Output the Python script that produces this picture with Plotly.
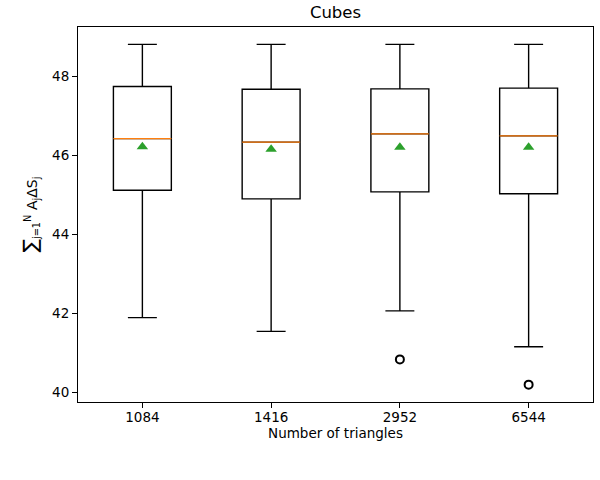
import plotly.graph_objects as go

categories = ["1084", "1416", "2952", "6544"]
q1 = [45.12, 44.90, 45.08, 45.03]
median = [46.43, 46.34, 46.55, 46.50]
q3 = [47.75, 47.68, 47.69, 47.71]
lower_whisker = [41.89, 41.54, 42.06, 41.15]
upper_whisker = [48.82, 48.82, 48.82, 48.82]
means = [46.22, 46.16, 46.21, 46.21]
outlier_cat = ["2952", "6544"]
outlier_val = [40.83, 40.19]

positions = [i + 1 for i in range(len(categories))]
pos_of = dict(zip(categories, positions))
BOX_W = 0.45
LW = 1.4
FONT = "DejaVu Sans"

fig = go.Figure()
fig.add_trace(go.Box(
    x=positions, q1=q1, median=median, q3=q3,
    lowerfence=lower_whisker, upperfence=upper_whisker,
    width=BOX_W, whiskerwidth=0.5,
    line=dict(color="black", width=LW),
    fillcolor="rgba(255,255,255,0)",
    boxpoints=False, showlegend=False, hoverinfo="skip",
))
for p, m in zip(positions, median):
    fig.add_trace(go.Scatter(
        x=[p - BOX_W / 2, p + BOX_W / 2], y=[m, m], mode="lines",
        line=dict(color="#ff7f0e", width=LW), showlegend=False, hoverinfo="skip",
    ))
fig.add_trace(go.Scatter(
    x=positions, y=means, mode="markers",
    marker=dict(symbol="triangle-up", size=10, color="#2ca02c"),
    showlegend=False,
))
fig.add_trace(go.Scatter(
    x=[pos_of[c] for c in outlier_cat], y=outlier_val, mode="markers",
    marker=dict(symbol="circle-open", size=8, color="black", line=dict(width=2)),
    showlegend=False,
))

axis_common = dict(
    showline=True, linecolor="black", linewidth=1, mirror=True,
    ticks="outside", ticklen=5, tickwidth=1, tickcolor="black",
    showgrid=False, zeroline=False,
    tickfont=dict(family=FONT, size=13.5, color="black"),
)
fig.update_xaxes(
    range=[0.5, 4.5], tickmode="array", tickvals=positions, ticktext=categories,
    ticklabelstandoff=-2,
    title=dict(text="Number of triangles", font=dict(family=FONT, size=13.5, color="black"), standoff=4),
    **axis_common,
)
fig.update_yaxes(
    range=[39.75, 49.26], tickmode="array", tickvals=[40, 42, 44, 46, 48],
    **axis_common,
)
fig.update_layout(
    width=600, height=480,
    margin=dict(l=78, r=7, t=27, b=78),
    plot_bgcolor="white", paper_bgcolor="white",
    title=dict(text="Cubes", x=0.5, xref="paper", y=1, yref="paper", yanchor="bottom",
               pad=dict(b=9), font=dict(family=FONT, size=16.5, color="black")),
    font=dict(family=FONT, color="black"),
    annotations=[dict(
        text="<span style='font-size:20px'>∑</span><sub>j=1</sub><sup>N</sup> A<sub>j</sub>ΔS<sub>j</sub>",
        xref="paper", yref="paper", x=-0.095, y=0.5, xanchor="center", yanchor="middle",
        textangle=-90, showarrow=False, font=dict(family=FONT, size=14, color="black"),
    )],
)
fig.write_html("out.html")
